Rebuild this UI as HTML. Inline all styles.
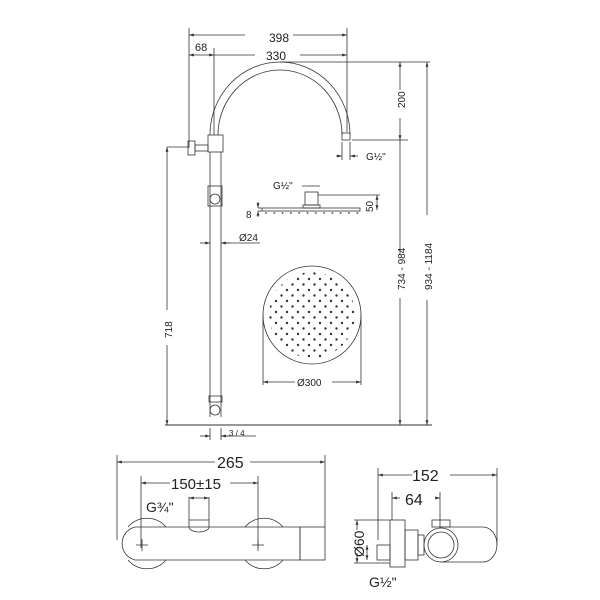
<!DOCTYPE html>
<html><head><style>body{margin:0;background:#fff}svg{display:block}text{font-family:"Liberation Sans",sans-serif;fill:#222}</style></head><body>
<svg width="600" height="600" viewBox="0 0 600 600" xmlns="http://www.w3.org/2000/svg">
<defs><marker id="a" viewBox="0 0 10 10" refX="10" refY="5" markerWidth="6" markerHeight="6" orient="auto-start-reverse"><path d="M0,2 L10,5 L0,8z" fill="#333"/></marker>
<pattern id="dp" x="268" y="271" width="11" height="11" patternUnits="userSpaceOnUse"><circle cx="2.5" cy="2.5" r="1.2" fill="#333"/><circle cx="8" cy="8" r="1.2" fill="#333"/></pattern>
<pattern id="dp2" x="262" y="210" width="8.3" height="6" patternUnits="userSpaceOnUse"><circle cx="4" cy="3" r="0.9" fill="#444"/></pattern></defs>
<circle cx="312" cy="315" r="43" fill="url(#dp)"/>
<rect x="262" y="211" width="98" height="4" fill="url(#dp2)"/>
<g stroke="#333" stroke-width="0.8" fill="none">
<line x1="189" y1="28" x2="189" y2="148"/><line x1="214" y1="48" x2="214" y2="135"/><line x1="347" y1="28" x2="347" y2="132"/>
<line x1="189" y1="35" x2="245" y2="35" marker-start="url(#a)"/><line x1="293" y1="35" x2="347" y2="35" marker-end="url(#a)"/>
<line x1="189" y1="55" x2="214" y2="55" marker-start="url(#a)" marker-end="url(#a)"/>
<line x1="214" y1="55" x2="255" y2="55"/><line x1="300" y1="55" x2="347" y2="55" marker-end="url(#a)"/>
<path d="M210,135 A70,73 0 0 1 350,135"/><path d="M218,135 A62,65 0 0 1 342,135"/>
<rect x="342" y="133" width="8" height="7"/>
<line x1="280" y1="62" x2="430" y2="62"/><line x1="352" y1="140" x2="408" y2="140"/>
<line x1="400" y1="62" x2="400" y2="90" marker-start="url(#a)"/><line x1="400" y1="118" x2="400" y2="140" marker-end="url(#a)"/>
<line x1="336" y1="156" x2="342" y2="156" marker-end="url(#a)"/><line x1="358" y1="156" x2="350" y2="156" marker-end="url(#a)"/>
<line x1="342" y1="142" x2="342" y2="160"/><line x1="350" y1="142" x2="350" y2="160"/>
<rect x="208" y="135" width="15" height="17"/>
<line x1="210" y1="152" x2="210" y2="417"/><line x1="221" y1="152" x2="221" y2="417"/>
<rect x="188" y="141" width="7" height="14"/><rect x="195" y="145" width="13" height="6"/>
<rect x="208" y="186" width="14" height="20"/><circle cx="215" cy="199" r="5"/>
<rect x="209" y="396" width="13" height="6"/><circle cx="215" cy="410" r="5"/>
<line x1="167" y1="147" x2="188" y2="147"/>
<line x1="167" y1="147" x2="167" y2="310" marker-start="url(#a)"/><line x1="167" y1="345" x2="167" y2="425" marker-end="url(#a)"/>
<line x1="165" y1="425" x2="432" y2="425" stroke-width="1"/>
<line x1="400" y1="140" x2="400" y2="255"/><line x1="400" y1="298" x2="400" y2="425" marker-end="url(#a)"/>
<line x1="427" y1="62" x2="427" y2="215" marker-start="url(#a)"/><line x1="427" y1="300" x2="427" y2="425" marker-end="url(#a)"/>
<line x1="200" y1="243" x2="210" y2="243" marker-end="url(#a)"/><line x1="230" y1="243" x2="221" y2="243" marker-end="url(#a)"/><line x1="221" y1="243" x2="260" y2="243"/>
<line x1="200" y1="436" x2="210" y2="436" marker-end="url(#a)"/><line x1="230" y1="436" x2="221" y2="436" marker-end="url(#a)"/><line x1="221" y1="436" x2="256" y2="436"/>
<line x1="210" y1="428" x2="210" y2="440"/><line x1="221" y1="428" x2="221" y2="440"/>
<rect x="305" y="192" width="13" height="13"/><rect x="303" y="205" width="17" height="3"/>
<rect x="262" y="208" width="98" height="3"/>
<line x1="302" y1="186" x2="320" y2="186"/><line x1="318" y1="195" x2="380" y2="195"/>
<line x1="377" y1="195" x2="377" y2="210" marker-start="url(#a)" marker-end="url(#a)"/>
<line x1="258" y1="208" x2="262" y2="208"/><line x1="258" y1="211" x2="262" y2="211"/>
<line x1="258" y1="202" x2="258" y2="208" marker-end="url(#a)"/><line x1="258" y1="217" x2="258" y2="211" marker-end="url(#a)"/>
<circle cx="312" cy="315" r="49"/>
<line x1="263" y1="315" x2="263" y2="385"/><line x1="361" y1="315" x2="361" y2="385"/>
<line x1="263" y1="382" x2="295" y2="382" marker-start="url(#a)"/><line x1="332" y1="382" x2="361" y2="382" marker-end="url(#a)"/>
<line x1="117" y1="455" x2="117" y2="540"/><line x1="325" y1="455" x2="325" y2="527"/>
<line x1="117" y1="462" x2="215" y2="462" marker-start="url(#a)"/><line x1="250" y1="462" x2="325" y2="462" marker-end="url(#a)"/>
<line x1="141" y1="476" x2="141" y2="548"/><line x1="258" y1="476" x2="258" y2="548"/>
<line x1="141" y1="483" x2="170" y2="483" marker-start="url(#a)"/><line x1="230" y1="483" x2="258" y2="483" marker-end="url(#a)"/>
<line x1="189" y1="497" x2="189" y2="520"/><line x1="209" y1="497" x2="209" y2="520"/>
<line x1="189" y1="498" x2="209" y2="498" marker-start="url(#a)" marker-end="url(#a)"/>
<path d="M128,527 A25,25 0 0 1 166,527 M128,560 A25,25 0 0 0 166,560"/>
<path d="M245,527 A25,25 0 0 1 283,527 M245,560 A25,25 0 0 0 283,560"/>
<path d="M135,527 L300,527 L300,560 L135,560 A17,17 0 0 1 135,527z"/>
<rect x="300" y="527" width="25" height="33"/>
<path d="M189,520 L209,520 L209,527 A10,5 0 0 1 189,527z"/>
<path d="M136,545 h12 M142,539 v12 M252,545 h12 M258,539 v12"/>
<line x1="378" y1="468" x2="378" y2="540"/><line x1="497" y1="468" x2="497" y2="545"/>
<line x1="378" y1="475" x2="412" y2="475" marker-start="url(#a)"/><line x1="450" y1="475" x2="497" y2="475" marker-end="url(#a)"/>
<line x1="392" y1="492" x2="392" y2="520"/><line x1="440" y1="492" x2="440" y2="540"/>
<line x1="392" y1="498" x2="400" y2="498" marker-start="url(#a)"/><line x1="435" y1="498" x2="440" y2="498" marker-end="url(#a)"/>
<line x1="354" y1="520" x2="390" y2="520"/><line x1="354" y1="563" x2="390" y2="563"/>
<line x1="357" y1="520" x2="357" y2="530" marker-start="url(#a)"/><line x1="357" y1="553" x2="357" y2="563" marker-end="url(#a)"/>
<rect x="390" y="520" width="15" height="47"/>
<rect x="405" y="530" width="13" height="30"/><rect x="418" y="535" width="6" height="20"/>
<rect x="377" y="545" width="13" height="15"/>
<line x1="367" y1="545" x2="367" y2="560" marker-start="url(#a)" marker-end="url(#a)"/>
<path d="M441,527 L483,527 A14,17.5 0 0 1 483,562 L441,562"/>
<circle cx="441" cy="545" r="17" fill="#fff"/><circle cx="441" cy="545" r="13"/>
<rect x="432" y="520" width="18" height="7"/>
</g>
<g font-size="11">
<text x="269" y="42" font-size="12">398</text>
<text x="195" y="51" font-size="11">68</text>
<text x="266" y="60" font-size="12">330</text>
<text x="366" y="160" font-size="10">G½"</text>
<text x="273" y="189" font-size="10">G½"</text>
<text x="246" y="218" font-size="10">8</text>
<text x="239" y="241" font-size="10">Ø24</text>
<text x="229" y="436" font-size="8">3 / 4</text>
<text x="297" y="386" font-size="10">Ø300</text>
<text transform="translate(373,212) rotate(-90)" font-size="10">50</text>
<text transform="translate(405,108) rotate(-90)" font-size="10">200</text>
<text transform="translate(405,290) rotate(-90)" font-size="10">734 - 984</text>
<text transform="translate(432,290) rotate(-90)" font-size="10">934 - 1184</text>
<text transform="translate(172,338) rotate(-90)" font-size="10">718</text>
<text x="217" y="468" font-size="16">265</text>
<text x="171" y="489" font-size="15">150±15</text>
<text x="146" y="512" font-size="14">G¾"</text>
<text x="412" y="481" font-size="16">152</text>
<text x="405" y="505" font-size="16">64</text>
<text x="369" y="587" font-size="14">G½"</text>
<text transform="translate(364,557) rotate(-90)" font-size="14">Ø60</text>
</g>
</svg>
</body></html>
